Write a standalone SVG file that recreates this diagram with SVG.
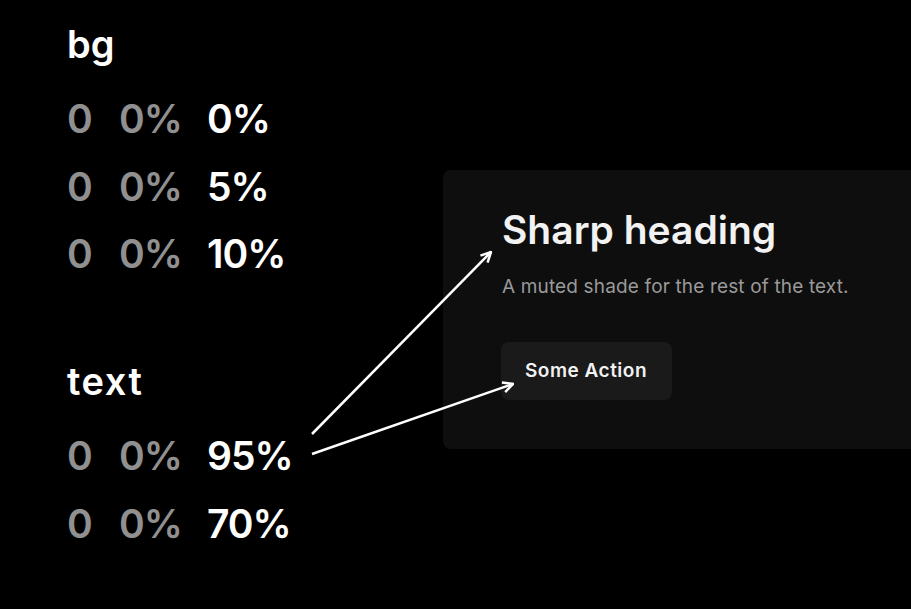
<svg xmlns="http://www.w3.org/2000/svg" width="911" height="609" viewBox="0 0 911 609">
<style>
.lbl{font-family:Inter,"Noto Sans",sans-serif;font-weight:600;fill:#ffffff;font-size:38px}
.num{font-family:Inter,"Noto Sans",sans-serif;font-weight:600;font-size:39px;letter-spacing:-1px}
.g{fill:#909090}
.w{fill:#ffffff}
.conn{stroke:#ffffff;stroke-width:2.5;fill:none}
</style>
<defs>
<marker id="ah" viewBox="0 0 12 12" refX="11" refY="6" markerWidth="12" markerHeight="12" markerUnits="userSpaceOnUse" orient="auto">
<path d="M1,1 L11,6 L1,11" fill="none" stroke="#ffffff" stroke-width="2.5"/>
</marker>
</defs>
<rect width="911" height="609" fill="#000000"/>
<g id="bg-group">
<text class="lbl" x="67" y="58">bg</text>
<text class="num" y="133"><tspan class="g" x="67">0</tspan><tspan class="g" x="119">0%</tspan><tspan class="w" x="207">0%</tspan></text>
<text class="num" y="201"><tspan class="g" x="67">0</tspan><tspan class="g" x="119">0%</tspan><tspan class="w" x="207">5%</tspan></text>
<text class="num" y="268"><tspan class="g" x="67">0</tspan><tspan class="g" x="119">0%</tspan><tspan class="w" x="207">10%</tspan></text>
</g>
<g id="text-group">
<text class="lbl" x="67" y="395" letter-spacing="1.5">text</text>
<text class="num" y="470"><tspan class="g" x="67">0</tspan><tspan class="g" x="119">0%</tspan><tspan class="w" x="207">95%</tspan></text>
<text class="num" y="538"><tspan class="g" x="67">0</tspan><tspan class="g" x="119">0%</tspan><tspan class="w" x="207">70%</tspan></text>
</g>
<g id="card">
<rect x="443" y="170" width="490" height="279" rx="8" fill="#0e0e0e"/>
<text x="502" y="244" font-family="Inter,'Noto Sans',sans-serif" font-weight="600" font-size="39" fill="#f2f2f2">Sharp heading</text>
<text x="502" y="293" font-family="Inter,'Noto Sans',sans-serif" font-weight="400" font-size="19" letter-spacing="0.15" fill="#9a9a9a">A muted shade for the rest of the text.</text>
</g>
<g id="button">
<rect x="501" y="342" width="171" height="58" rx="8" fill="#1a1a1a"/>
<text x="525" y="377" font-family="Inter,'Noto Sans',sans-serif" font-weight="600" font-size="19" letter-spacing="0.5" fill="#f2f2f2">Some Action</text>
</g>
<g id="connectors">
<line class="conn" x1="312" y1="434" x2="491" y2="252" marker-end="url(#ah)"/>
<line class="conn" x1="312" y1="454" x2="513" y2="384" marker-end="url(#ah)"/>
</g>
</svg>
